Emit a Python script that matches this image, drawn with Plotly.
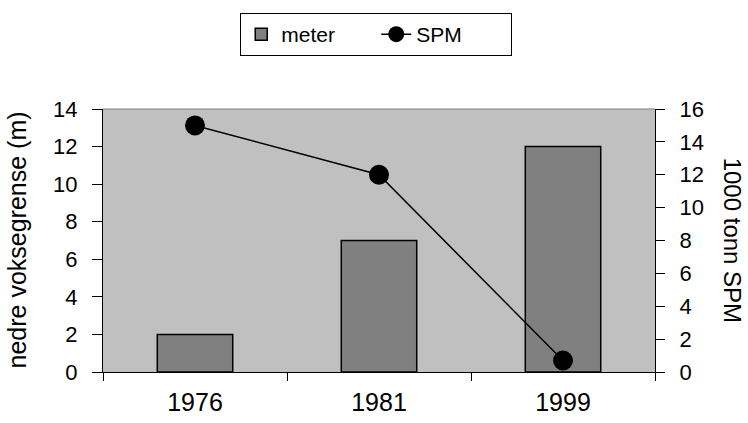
import plotly.graph_objects as go

years = ["1976", "1981", "1999"]
meter = [2, 7, 12]
spm = [15, 12, 0.7]

FONT = "Liberation Sans, Arial, sans-serif"

fig = go.Figure()
fig.add_trace(go.Bar(
    x=years, y=meter, name="meter",
    marker=dict(color="#808080", line=dict(color="black", width=1.5)),
    yaxis="y", xaxis="x",
))
fig.add_trace(go.Scatter(
    x=years, y=spm, name="SPM", mode="lines+markers",
    line=dict(color="black", width=1.5),
    marker=dict(color="black", size=20),
    yaxis="y2", xaxis="x",
))

fig.update_layout(
    width=748, height=423,
    margin=dict(l=103, r=93, t=109, b=51, autoexpand=False),
    paper_bgcolor="white",
    plot_bgcolor="#C0C0C0",
    font=dict(family=FONT, size=22, color="black"),
    bargap=0.59,
    showlegend=True,
    legend=dict(
        orientation="h", x=0.495, xanchor="center", y=1.365, yanchor="top",
        bordercolor="black", borderwidth=1, bgcolor="white",
        font=dict(size=21), traceorder="normal", entrywidth=90,
    ),
    xaxis=dict(
        type="category", showgrid=False, showline=True, linecolor="black", linewidth=1,
        ticks="outside", ticklen=8, tickcolor="black", tickson="boundaries",
        ticklabelstandoff=8, tickfont=dict(size=25),
    ),
    xaxis2=dict(
        overlaying="x", range=[-0.5, 2.5], tick0=0.5, dtick=1, showticklabels=False,
        ticks="inside", ticklen=8, tickcolor="black", showgrid=False, showline=False,
        zeroline=False,
    ),
    yaxis=dict(
        range=[0, 14], dtick=2, showgrid=False, zeroline=False,
        showline=True, linecolor="black", linewidth=1,
        ticks="outside", ticklen=10, tickcolor="black", ticklabelstandoff=10,
    ),
    yaxis3=dict(
        overlaying="y", side="left", range=[0, 14], dtick=2, showticklabels=False,
        ticks="inside", ticklen=9, tickcolor="black", showgrid=False, zeroline=False,
        showline=False,
    ),
    yaxis2=dict(
        overlaying="y", side="right", range=[0, 16], dtick=2, showgrid=False,
        zeroline=False, showline=True, linecolor="black", linewidth=1,
        ticks="outside", ticklen=9, tickcolor="black", ticklabelstandoff=10,
    ),
    shapes=[dict(type="line", xref="paper", yref="paper", x0=0, x1=1, y0=1, y1=1,
                 line=dict(color="#808080", width=1))],
    annotations=[
        dict(text="nedre voksegrense (m)", xref="paper", yref="paper",
             x=-0.1576, y=0.5, xanchor="center", yanchor="middle",
             textangle=-90, showarrow=False, font=dict(size=25)),
        dict(text="1000 tonn SPM", xref="paper", yref="paper",
             x=1.141, y=0.5, xanchor="center", yanchor="middle",
             textangle=90, showarrow=False, font=dict(size=24)),
    ],
)

fig.write_html("out.html", config={"displayModeBar": False},
               post_script="document.body.style.margin='0px';")
